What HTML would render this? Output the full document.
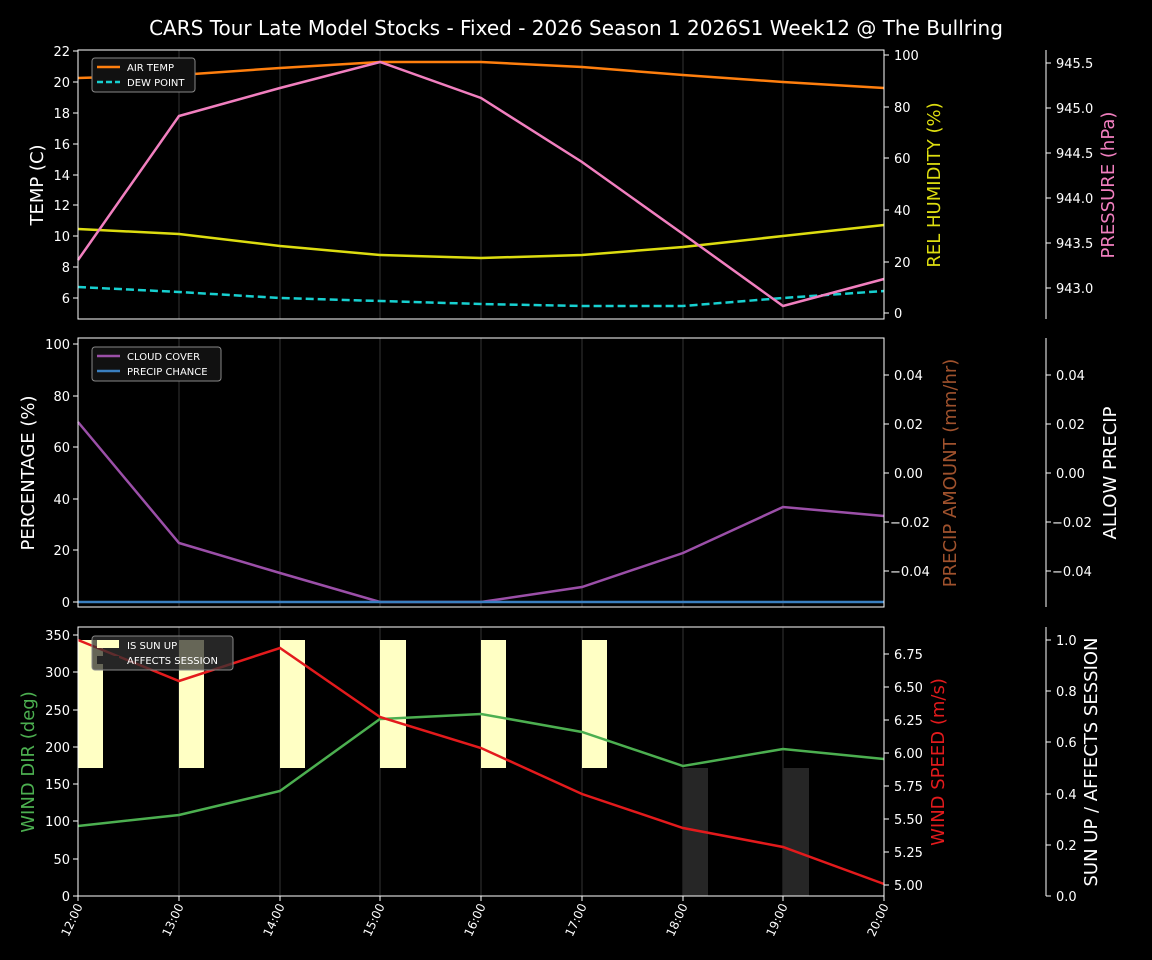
<!DOCTYPE html>
<html><head><meta charset="utf-8"><style>
body{margin:0;background:#000;}
svg{display:block;font-family:"DejaVu Sans","Liberation Sans",sans-serif;}
</style></head><body>
<svg width="1152" height="960" viewBox="0 0 1152 960" xmlns="http://www.w3.org/2000/svg">
<rect width="1152" height="960" fill="#000"/>
<text x="576" y="35" fill="#fff" font-size="20" text-anchor="middle">CARS Tour Late Model Stocks - Fixed - 2026 Season 1 2026S1 Week12 @ The Bullring</text>

<!-- grid lines -->
<g stroke="#222" stroke-width="1.5">
<line x1="179" y1="50" x2="179" y2="319"/><line x1="280" y1="50" x2="280" y2="319"/><line x1="380" y1="50" x2="380" y2="319"/><line x1="481" y1="50" x2="481" y2="319"/><line x1="582" y1="50" x2="582" y2="319"/><line x1="683" y1="50" x2="683" y2="319"/><line x1="783" y1="50" x2="783" y2="319"/>
<line x1="179" y1="338" x2="179" y2="607"/><line x1="280" y1="338" x2="280" y2="607"/><line x1="380" y1="338" x2="380" y2="607"/><line x1="481" y1="338" x2="481" y2="607"/><line x1="582" y1="338" x2="582" y2="607"/><line x1="683" y1="338" x2="683" y2="607"/><line x1="783" y1="338" x2="783" y2="607"/>
<line x1="179" y1="627" x2="179" y2="896"/><line x1="280" y1="627" x2="280" y2="896"/><line x1="380" y1="627" x2="380" y2="896"/><line x1="481" y1="627" x2="481" y2="896"/><line x1="582" y1="627" x2="582" y2="896"/><line x1="683" y1="627" x2="683" y2="896"/><line x1="783" y1="627" x2="783" y2="896"/>
</g>

<!-- PANEL 1 -->
<polyline fill="none" stroke="#ff7f0e" stroke-width="2.5" points="78,78 179,75 280,68 380,62 481,62 582,67 683,75 783,82 884,88"/>
<polyline fill="none" stroke="#17d0d0" stroke-width="2.5" stroke-dasharray="8,4" points="78,287 179,292 280,298 380,301 481,304 582,306 683,306 783,298 884,291"/>
<polyline fill="none" stroke="#dddd10" stroke-width="2.5" points="78,229 179,234 280,246 380,255 481,258 582,255 683,247 783,236 884,225"/>
<polyline fill="none" stroke="#f17fbf" stroke-width="2.5" points="78,260 179,116 280,88 380,62 481,98 582,162 683,234 783,306 884,279"/>
<rect x="78" y="50" width="806" height="269" fill="none" stroke="#fff" stroke-width="1"/>
<g fill="#fff" font-size="13" text-anchor="end">
<text x="70" y="56">22</text><text x="70" y="87">20</text><text x="70" y="118">18</text><text x="70" y="149">16</text><text x="70" y="180">14</text><text x="70" y="210">12</text><text x="70" y="241">10</text><text x="70" y="272">8</text><text x="70" y="303">6</text>
</g>
<g stroke="#fff"><line x1="73" y1="51" x2="78" y2="51"/><line x1="73" y1="82" x2="78" y2="82"/><line x1="73" y1="113" x2="78" y2="113"/><line x1="73" y1="144" x2="78" y2="144"/><line x1="73" y1="175" x2="78" y2="175"/><line x1="73" y1="205" x2="78" y2="205"/><line x1="73" y1="236" x2="78" y2="236"/><line x1="73" y1="267" x2="78" y2="267"/><line x1="73" y1="298" x2="78" y2="298"/>
<line x1="884" y1="55" x2="889" y2="55"/><line x1="884" y1="107" x2="889" y2="107"/><line x1="884" y1="158" x2="889" y2="158"/><line x1="884" y1="210" x2="889" y2="210"/><line x1="884" y1="262" x2="889" y2="262"/><line x1="884" y1="313" x2="889" y2="313"/>
<line x1="1046" y1="50" x2="1046" y2="319"/>
<line x1="1046" y1="63" x2="1051" y2="63"/><line x1="1046" y1="108" x2="1051" y2="108"/><line x1="1046" y1="153" x2="1051" y2="153"/><line x1="1046" y1="198" x2="1051" y2="198"/><line x1="1046" y1="243" x2="1051" y2="243"/><line x1="1046" y1="288" x2="1051" y2="288"/>
</g>
<g fill="#fff" font-size="13">
<text x="894" y="60">100</text><text x="894" y="112">80</text><text x="894" y="163">60</text><text x="894" y="215">40</text><text x="894" y="267">20</text><text x="894" y="318">0</text>
<text x="1056" y="68">945.5</text><text x="1056" y="113">945.0</text><text x="1056" y="158">944.5</text><text x="1056" y="203">944.0</text><text x="1056" y="248">943.5</text><text x="1056" y="293">943.0</text>
</g>
<text transform="translate(43,185) rotate(-90)" fill="#fff" font-size="18" text-anchor="middle">TEMP (C)</text>
<text transform="translate(940,185) rotate(-90)" fill="#dddd10" font-size="18" text-anchor="middle">REL HUMIDITY (%)</text>
<text transform="translate(1114,185) rotate(-90)" fill="#f17fbf" font-size="18" text-anchor="middle">PRESSURE (hPa)</text>
<rect x="92" y="58" width="103" height="34" rx="3" fill="#111" stroke="#888" stroke-width="1"/>
<line x1="97" y1="67" x2="120" y2="67" stroke="#ff7f0e" stroke-width="2.5"/>
<line x1="97" y1="82" x2="120" y2="82" stroke="#17d0d0" stroke-width="2.5" stroke-dasharray="6,3"/>
<text x="127" y="71" fill="#fff" font-size="10">AIR TEMP</text>
<text x="127" y="86" fill="#fff" font-size="10">DEW POINT</text>

<!-- PANEL 2 -->
<polyline fill="none" stroke="#9b4fa8" stroke-width="2.5" points="78,422 179,543 280,573 380,602 481,602 582,587 683,553 783,507 884,516"/>
<line x1="78" y1="602" x2="884" y2="602" stroke="#3a7fc0" stroke-width="2.5"/>
<rect x="78" y="338" width="806" height="269" fill="none" stroke="#fff" stroke-width="1"/>
<g stroke="#fff">
<line x1="73" y1="344" x2="78" y2="344"/><line x1="73" y1="396" x2="78" y2="396"/><line x1="73" y1="447" x2="78" y2="447"/><line x1="73" y1="499" x2="78" y2="499"/><line x1="73" y1="550" x2="78" y2="550"/><line x1="73" y1="602" x2="78" y2="602"/>
<line x1="884" y1="375" x2="889" y2="375"/><line x1="884" y1="424" x2="889" y2="424"/><line x1="884" y1="473" x2="889" y2="473"/><line x1="884" y1="522" x2="889" y2="522"/><line x1="884" y1="571" x2="889" y2="571"/>
<line x1="1046" y1="338" x2="1046" y2="607"/>
<line x1="1046" y1="375" x2="1051" y2="375"/><line x1="1046" y1="424" x2="1051" y2="424"/><line x1="1046" y1="473" x2="1051" y2="473"/><line x1="1046" y1="522" x2="1051" y2="522"/><line x1="1046" y1="571" x2="1051" y2="571"/>
</g>
<g fill="#fff" font-size="13">
<text x="70" y="349" text-anchor="end">100</text><text x="70" y="401" text-anchor="end">80</text><text x="70" y="452" text-anchor="end">60</text><text x="70" y="504" text-anchor="end">40</text><text x="70" y="555" text-anchor="end">20</text><text x="70" y="607" text-anchor="end">0</text>
<text x="894" y="380">0.04</text><text x="894" y="429">0.02</text><text x="894" y="478">0.00</text><text x="890" y="527">−0.02</text><text x="890" y="576">−0.04</text>
<text x="1056" y="380">0.04</text><text x="1056" y="429">0.02</text><text x="1056" y="478">0.00</text><text x="1052" y="527">−0.02</text><text x="1052" y="576">−0.04</text>
</g>
<text transform="translate(34,473) rotate(-90)" fill="#fff" font-size="18" text-anchor="middle">PERCENTAGE (%)</text>
<text transform="translate(956,473) rotate(-90)" fill="#a0522d" font-size="18" text-anchor="middle">PRECIP AMOUNT (mm/hr)</text>
<text transform="translate(1116,473) rotate(-90)" fill="#fff" font-size="18" text-anchor="middle">ALLOW PRECIP</text>
<rect x="92" y="347" width="129" height="34" rx="3" fill="#111" stroke="#888" stroke-width="1"/>
<line x1="97" y1="356" x2="120" y2="356" stroke="#9b4fa8" stroke-width="2.5"/>
<line x1="97" y1="371" x2="120" y2="371" stroke="#3a7fc0" stroke-width="2.5"/>
<text x="127" y="360" fill="#fff" font-size="10">CLOUD COVER</text>
<text x="127" y="375" fill="#fff" font-size="10">PRECIP CHANCE</text>

<!-- PANEL 3 -->
<g fill="#ffffc4">
<rect x="78" y="640" width="25" height="128"/><rect x="179" y="640" width="25" height="128"/><rect x="280" y="640" width="25" height="128"/><rect x="380" y="640" width="26" height="128"/><rect x="481" y="640" width="25" height="128"/><rect x="582" y="640" width="25" height="128"/>
</g>
<g fill="#262626">
<rect x="683" y="768" width="25" height="128"/><rect x="783" y="768" width="26" height="128"/>
</g>
<polyline fill="none" stroke="#4caf50" stroke-width="2.5" points="78,826 179,815 280,791 380,719 481,714 582,732 683,766 783,749 884,759"/>
<polyline fill="none" stroke="#e31a1c" stroke-width="2.5" points="78,640 179,681 280,648 380,717 481,748 582,794 683,828 783,847 884,884"/>
<rect x="78" y="627" width="806" height="269" fill="none" stroke="#fff" stroke-width="1"/>
<g stroke="#fff">
<line x1="73" y1="635" x2="78" y2="635"/><line x1="73" y1="672" x2="78" y2="672"/><line x1="73" y1="710" x2="78" y2="710"/><line x1="73" y1="747" x2="78" y2="747"/><line x1="73" y1="784" x2="78" y2="784"/><line x1="73" y1="821" x2="78" y2="821"/><line x1="73" y1="859" x2="78" y2="859"/><line x1="73" y1="896" x2="78" y2="896"/>
<line x1="884" y1="654" x2="889" y2="654"/><line x1="884" y1="687" x2="889" y2="687"/><line x1="884" y1="720" x2="889" y2="720"/><line x1="884" y1="753" x2="889" y2="753"/><line x1="884" y1="786" x2="889" y2="786"/><line x1="884" y1="819" x2="889" y2="819"/><line x1="884" y1="852" x2="889" y2="852"/><line x1="884" y1="885" x2="889" y2="885"/>
<line x1="1046" y1="627" x2="1046" y2="896"/>
<line x1="1046" y1="640" x2="1051" y2="640"/><line x1="1046" y1="691" x2="1051" y2="691"/><line x1="1046" y1="742" x2="1051" y2="742"/><line x1="1046" y1="794" x2="1051" y2="794"/><line x1="1046" y1="845" x2="1051" y2="845"/><line x1="1046" y1="896" x2="1051" y2="896"/>
</g>
<g fill="#fff" font-size="13">
<text x="70" y="640" text-anchor="end">350</text><text x="70" y="677" text-anchor="end">300</text><text x="70" y="715" text-anchor="end">250</text><text x="70" y="752" text-anchor="end">200</text><text x="70" y="789" text-anchor="end">150</text><text x="70" y="826" text-anchor="end">100</text><text x="70" y="864" text-anchor="end">50</text><text x="70" y="901" text-anchor="end">0</text>
<text x="894" y="659">6.75</text><text x="894" y="692">6.50</text><text x="894" y="725">6.25</text><text x="894" y="758">6.00</text><text x="894" y="791">5.75</text><text x="894" y="824">5.50</text><text x="894" y="857">5.25</text><text x="894" y="890">5.00</text>
<text x="1056" y="645">1.0</text><text x="1056" y="696">0.8</text><text x="1056" y="747">0.6</text><text x="1056" y="799">0.4</text><text x="1056" y="850">0.2</text><text x="1056" y="901">0.0</text>
</g>
<text transform="translate(34,762) rotate(-90)" fill="#4caf50" font-size="18" text-anchor="middle">WIND DIR (deg)</text>
<text transform="translate(944,762) rotate(-90)" fill="#e31a1c" font-size="18" text-anchor="middle">WIND SPEED (m/s)</text>
<text transform="translate(1097,762) rotate(-90)" fill="#fff" font-size="18" text-anchor="middle">SUN UP / AFFECTS SESSION</text>
<rect x="92" y="636" width="141" height="34" rx="3" fill="#333" fill-opacity="0.75" stroke="#888" stroke-width="1"/>
<rect x="97" y="640" width="22" height="8" fill="#ffffc4"/>
<rect x="97" y="656" width="22" height="8" fill="#262626"/>
<text x="127" y="649" fill="#fff" font-size="10">IS SUN UP</text>
<text x="127" y="664" fill="#fff" font-size="10">AFFECTS SESSION</text>

<!-- x ticks -->
<g stroke="#fff">
<line x1="78" y1="896" x2="78" y2="901"/><line x1="179" y1="896" x2="179" y2="901"/><line x1="280" y1="896" x2="280" y2="901"/><line x1="380" y1="896" x2="380" y2="901"/><line x1="481" y1="896" x2="481" y2="901"/><line x1="582" y1="896" x2="582" y2="901"/><line x1="683" y1="896" x2="683" y2="901"/><line x1="783" y1="896" x2="783" y2="901"/><line x1="884" y1="896" x2="884" y2="901"/>
</g>
<g fill="#fff" font-size="12" text-anchor="end">
<text transform="translate(83,906) rotate(-65)">12:00</text>
<text transform="translate(184,906) rotate(-65)">13:00</text>
<text transform="translate(285,906) rotate(-65)">14:00</text>
<text transform="translate(385,906) rotate(-65)">15:00</text>
<text transform="translate(486,906) rotate(-65)">16:00</text>
<text transform="translate(587,906) rotate(-65)">17:00</text>
<text transform="translate(688,906) rotate(-65)">18:00</text>
<text transform="translate(788,906) rotate(-65)">19:00</text>
<text transform="translate(889,906) rotate(-65)">20:00</text>
</g>
</svg>
</body></html>
